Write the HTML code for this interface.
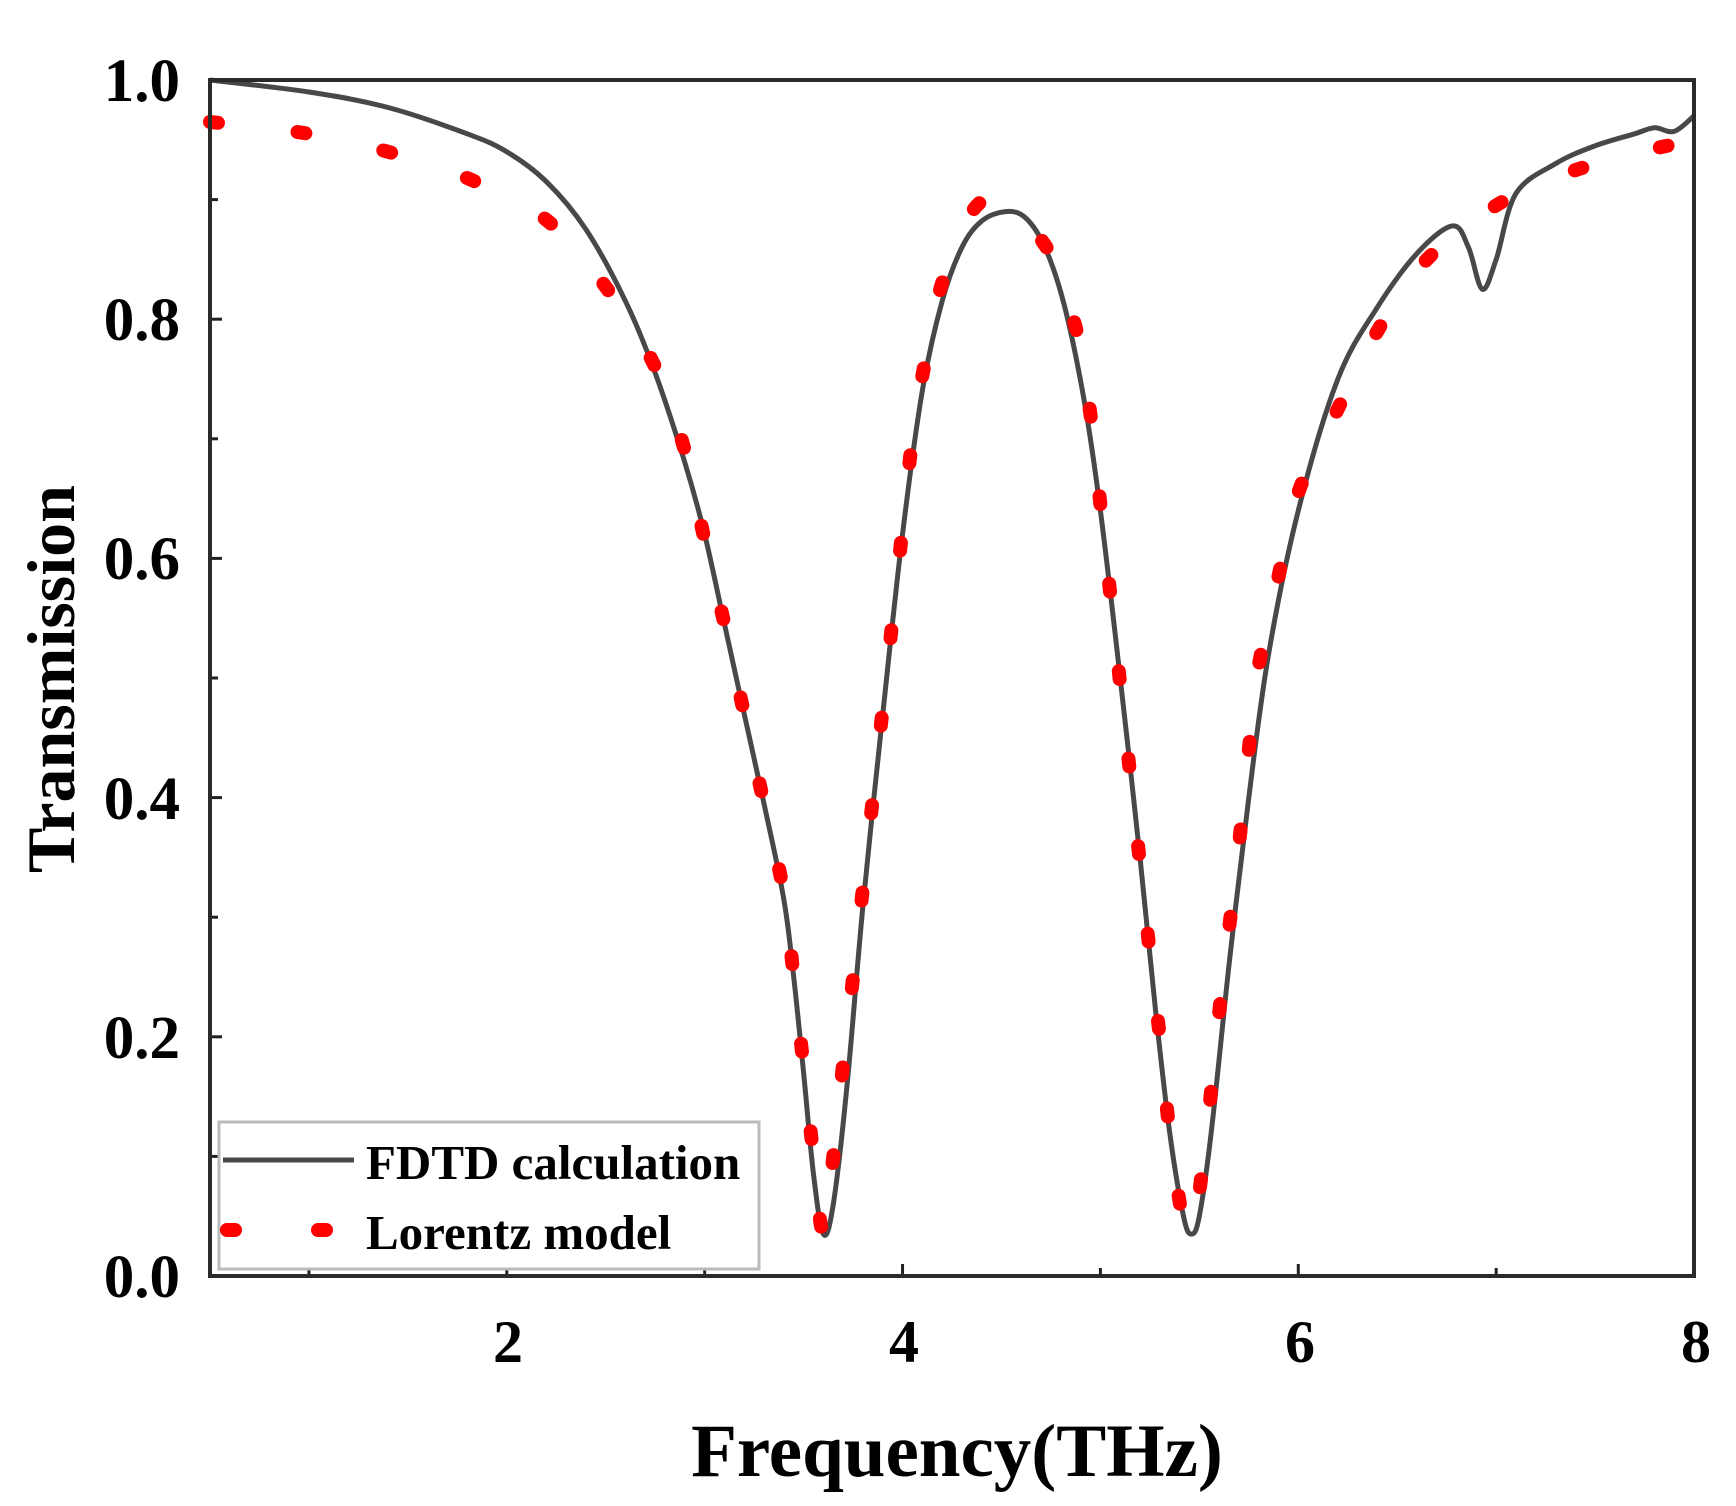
<!DOCTYPE html>
<html><head><meta charset="utf-8"><style>
html,body{margin:0;padding:0;background:#fff;}
svg{display:block;}
text{font-family:"Liberation Serif",serif;font-weight:bold;fill:#000;}
</style></head><body>
<svg id="s" width="1736" height="1506" viewBox="0 0 1736 1506" xmlns="http://www.w3.org/2000/svg">
<g id="ticks" stroke="#222" stroke-width="3"></g>
<path id="fd" fill="none" stroke="#484848" stroke-width="5" stroke-linejoin="round"/>
<path id="lz" fill="none" stroke="#ff0000" stroke-width="14" stroke-linecap="round" stroke-dasharray="8 80"/>
<rect x="210" y="80" width="1484" height="1196" fill="none" stroke="#2a2a2a" stroke-width="4"/>
<g font-size="61" text-anchor="end">
<text x="180" y="101">1.0</text>
<text x="180" y="340">0.8</text>
<text x="180" y="579">0.6</text>
<text x="180" y="819">0.4</text>
<text x="180" y="1058">0.2</text>
<text x="180" y="1297">0.0</text>
</g>
<g font-size="60" text-anchor="middle">
<text x="508" y="1362">2</text>
<text x="904" y="1362">4</text>
<text x="1300" y="1362">6</text>
<text x="1696" y="1362">8</text>
</g>
<text x="957" y="1476" font-size="75" text-anchor="middle">Frequency(THz)</text>
<text transform="translate(74,679) rotate(-90)" font-size="68" text-anchor="middle">Transmission</text>
<rect x="219" y="1122" width="540" height="147" fill="#fff" stroke="#bbb" stroke-width="3"/>
<line x1="223" y1="1160" x2="354" y2="1160" stroke="#484848" stroke-width="5"/>
<line x1="227" y1="1230" x2="235" y2="1230" stroke="#f00" stroke-width="14" stroke-linecap="round"/>
<line x1="318" y1="1230" x2="326" y2="1230" stroke="#f00" stroke-width="14" stroke-linecap="round"/>
<text x="366" y="1179" font-size="49">FDTD calculation</text>
<text x="366" y="1249" font-size="49">Lorentz model</text>
</svg>
<script>
var X=f=>210+(f-0.5)*197.87, Y=t=>1276-t*1196;
var fd=[[0.5,1.0],[1.0,0.99],[1.4,0.977],[1.8,0.955],[2.0,0.94],[2.2,0.915],[2.4,0.875],[2.6,0.815],[2.75,0.755],[2.9,0.68],[3.0,0.62],[3.1,0.545],[3.2,0.47],[3.3,0.395],[3.4,0.315],[3.45,0.25],[3.5,0.17],[3.55,0.085],[3.6,0.035],[3.65,0.06],[3.72,0.16],[3.8,0.31],[3.9,0.47],[4.0,0.62],[4.1,0.74],[4.2,0.815],[4.3,0.86],[4.4,0.882],[4.52,0.89],[4.62,0.885],[4.72,0.86],[4.82,0.81],[4.92,0.73],[5.0,0.64],[5.1,0.5],[5.2,0.35],[5.28,0.22],[5.35,0.12],[5.42,0.05],[5.46,0.035],[5.5,0.05],[5.56,0.12],[5.65,0.26],[5.75,0.4],[5.85,0.52],[6.0,0.64],[6.2,0.75],[6.4,0.81],[6.6,0.855],[6.78,0.878],[6.86,0.86],[6.93,0.825],[7.0,0.85],[7.1,0.905],[7.3,0.93],[7.5,0.945],[7.7,0.955],[7.8,0.96],[7.9,0.957],[8.0,0.97]];
var lz=[[0.5,0.965],[1.0,0.955],[1.4,0.94],[1.8,0.918],[2.2,0.883],[2.5,0.827],[2.75,0.76],[2.9,0.69],[3.0,0.615],[3.1,0.545],[3.2,0.47],[3.3,0.395],[3.4,0.32],[3.45,0.25],[3.5,0.175],[3.55,0.1],[3.6,0.035],[3.65,0.1],[3.7,0.178],[3.75,0.25],[3.8,0.325],[3.85,0.4],[3.9,0.475],[3.95,0.55],[4.0,0.625],[4.05,0.7],[4.12,0.77],[4.22,0.84],[4.42,0.9],[4.72,0.862],[4.88,0.79],[4.95,0.72],[5.0,0.645],[5.05,0.57],[5.1,0.495],[5.15,0.42],[5.2,0.345],[5.25,0.27],[5.3,0.2],[5.35,0.12],[5.42,0.045],[5.47,0.04],[5.5,0.07],[5.55,0.14],[5.6,0.22],[5.65,0.29],[5.7,0.36],[5.75,0.44],[5.8,0.51],[5.9,0.585],[6.0,0.655],[6.2,0.725],[6.4,0.79],[6.65,0.85],[7.05,0.9],[7.5,0.93],[8.0,0.95]];
function path(p){var q=p.map(a=>[X(a[0]),Y(a[1])]);var d="M"+q[0][0].toFixed(1)+","+q[0][1].toFixed(1);
for(var i=0;i<q.length-1;i++){var p0=q[i-1]||q[i],p1=q[i],p2=q[i+1],p3=q[i+2]||q[i+1];
var c1=[p1[0]+(p2[0]-p0[0])/6,p1[1]+(p2[1]-p0[1])/6],c2=[p2[0]-(p3[0]-p1[0])/6,p2[1]-(p3[1]-p1[1])/6];
d+="C"+c1.map(v=>v.toFixed(1))+" "+c2.map(v=>v.toFixed(1))+" "+p2.map(v=>v.toFixed(1));}return d;}
document.getElementById("fd").setAttribute("d",path(fd));
document.getElementById("lz").setAttribute("d",path(lz));
var g=document.getElementById("ticks"),h="";
for(var f=1;f<=7;f++){var x=X(f),L=(f%2==0)?12:8;h+='<line x1="'+x+'" y1="1276" x2="'+x+'" y2="'+(1276-L)+'"/>';}
for(var i=1;i<10;i++){var y=Y(i/10),L=(i%2==0)?12:8;h+='<line x1="210" y1="'+y+'" x2="'+(210+L)+'" y2="'+y+'"/>';}
g.innerHTML=h;
</script>
</body></html>
